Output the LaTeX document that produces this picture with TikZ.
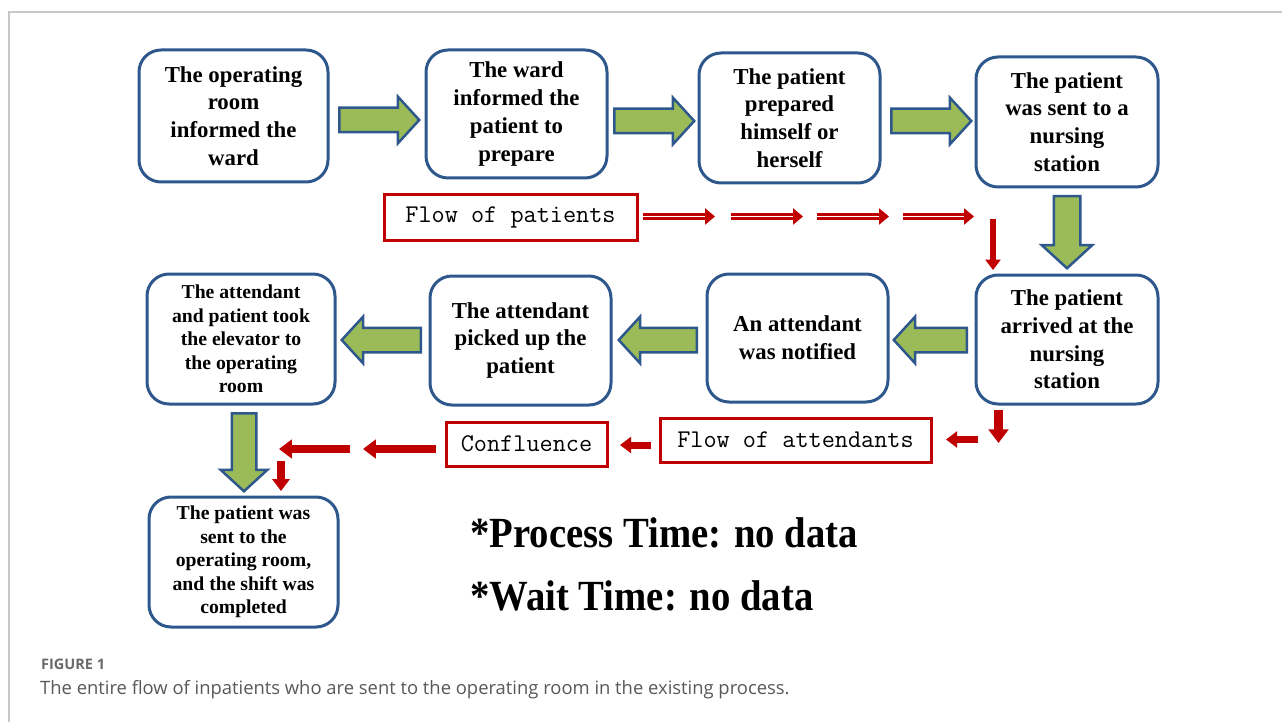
\documentclass[tikz,border=0pt]{standalone}
\usepackage{fontspec}
\setmainfont{Liberation Serif}
\newfontfamily\captionfont{Open Sans}
\usetikzlibrary{shapes.arrows,arrows.meta,calc}

\definecolor{boxblue}{RGB}{46,88,140}
\definecolor{arrowgreen}{RGB}{155,187,89}
\definecolor{flowred}{RGB}{192,0,0}
\definecolor{framegray}{RGB}{200,200,200}
\definecolor{capgray}{RGB}{88,88,88}
\definecolor{figgray}{RGB}{105,105,105}

\tikzset{
  stepbox/.style={draw=boxblue, line width=3pt, rounded corners=22pt, fill=white,
    align=center, inner sep=0pt, font=\bfseries\fontsize{22.8}{27.7}\selectfont},
  smallstep/.style={stepbox, font=\bfseries\fontsize{19.7}{23.5}\selectfont},
  greenarrow/.style={shape=single arrow, draw=boxblue, fill=arrowgreen, line width=2.5pt,
    inner sep=11pt, text height=0pt, text depth=0pt, anchor=tail,
    single arrow head extend=11pt, single arrow tip angle=95},
  flowlabel/.style={draw=flowred, line width=3pt, fill=white, inner sep=0pt,
    font=\ttfamily\fontsize{25.5}{25.5}\selectfont},
  flowdouble/.style={draw=flowred, line width=2.8pt, double=white, double distance=1.6pt,
    -{Triangle[width=16pt,length=10pt]}},
  flowsolid/.style={draw=flowred, line width=#1, -{Triangle[width=2.3*#1,length=1.6*#1]}},
  flowsolid/.default=8pt,
  timetext/.style={anchor=base west, inner sep=0pt,
    font=\bfseries\fontsize{43}{43}\selectfont},
}

\begin{document}
\begin{tikzpicture}[x=1pt,y=-1pt]
  \useasboundingbox (0,0) rectangle (1282,722);

  % page frame
  \draw[framegray, line width=1.5pt] (9,722) -- (9,12) -- (1282,12);

  % process steps, upper row
  \node[stepbox, minimum width=189pt, minimum height=132pt] (s1) at (233.5,116)
    {The operating\\room\\informed the\\ward};
  \node[stepbox, minimum width=181pt, minimum height=128pt] (s2) at (516.5,114)
    {The ward\\informed the\\patient to\\prepare};
  \node[stepbox, minimum width=181pt, minimum height=130pt] (s3) at (789.5,118)
    {The patient\\prepared\\himself or\\herself};
  \node[stepbox, minimum width=182pt, minimum height=130pt] (s4) at (1067,122)
    {The patient\\was sent to a\\nursing\\station};

  % process steps, lower row
  \node[stepbox, minimum width=182pt, minimum height=129pt] (s5) at (1067,339.5)
    {The patient\\arrived at the\\nursing\\station};
  \node[stepbox, minimum width=181pt, minimum height=128pt] (s6) at (797.5,338)
    {An attendant\\was notified};
  \node[stepbox, minimum width=181pt, minimum height=129pt] (s7) at (520.5,340.5)
    {The attendant\\picked up the\\patient};
  \node[smallstep, minimum width=188pt, minimum height=130pt] (s8) at (241,339)
    {The attendant\\and patient took\\the elevator to\\the operating\\room};
  \node[smallstep, minimum width=189pt, minimum height=130pt] (s9) at (243.5,562)
    {The patient was\\sent to the\\operating room,\\and the shift was\\completed};

  % green block arrows between the steps (placed by their tails)
  \node[greenarrow, minimum height=80pt] (g1) at (338,120) {};
  \node[greenarrow, minimum height=80pt] (g2) at (613,121) {};
  \node[greenarrow, minimum height=80pt] (g3) at (890,121) {};
  \node[greenarrow, minimum height=72pt, inner sep=12pt, single arrow head extend=12pt,
    shape border rotate=270] (g4) at (1067,195) {};
  \node[greenarrow, minimum height=73pt, shape border rotate=180] (g5) at (968,340) {};
  \node[greenarrow, minimum height=78pt, shape border rotate=180] (g6) at (698,340) {};
  \node[greenarrow, minimum height=79pt, shape border rotate=180] (g7) at (422,340) {};
  \node[greenarrow, minimum height=78pt, shape border rotate=270] (g8) at (244,412) {};

  % flow labels
  \node[flowlabel, minimum width=253pt, minimum height=45pt] (fp) at (510.5,217.5)
    {Flow of patients};
  \node[flowlabel, minimum width=271pt, minimum height=44pt] (fa) at (795.5,440)
    {Flow of attendants};
  \node[flowlabel, minimum width=161pt, minimum height=44pt] (cf) at (526.5,444)
    {Confluence};

  % flow of patients
  \coordinate (p0) at (643,216.5);
  \coordinate (p1) at (715,216.5);
  \coordinate (p2) at (731,216.5);
  \coordinate (p3) at (803,216.5);
  \coordinate (p4) at (817,216.5);
  \coordinate (p5) at (889,216.5);
  \coordinate (p6) at (903,216.5);
  \coordinate (p7) at (974,216.5);
  \coordinate (p8) at (993,219);
  \coordinate (p9) at (993,270);
  \draw[flowdouble] (p0) -- (p1);
  \draw[flowdouble] (p2) -- (p3);
  \draw[flowdouble] (p4) -- (p5);
  \draw[flowdouble] (p6) -- (p7);
  \draw[flowsolid=6.5pt] (p8) -- (p9);

  % flow of attendants
  \coordinate (a0) at (998.5,410);
  \coordinate (a1) at (998.5,443);
  \coordinate (a2) at (978,439.5);
  \coordinate (a3) at (946,439.5);
  \coordinate (a4) at (651,445);
  \coordinate (a5) at (620,445);
  \draw[flowsolid=8.5pt] (a0) -- (a1);
  \draw[flowsolid=7pt] (a2) -- (a3);
  \draw[flowsolid=7pt] (a4) -- (a5);

  % confluence towards the final step
  \coordinate (c0) at (436,449);
  \coordinate (c1) at (363,449);
  \coordinate (c2) at (350,449);
  \coordinate (c3) at (279,449);
  \coordinate (c4) at (281,461);
  \coordinate (c5) at (281,491);
  \draw[flowsolid=8pt] (c0) -- (c1);
  \draw[flowsolid=8pt] (c2) -- (c3);
  \draw[flowsolid=7.5pt] (c4) -- (c5);

  % timing notes
  \node[timetext] (pt) at (470,547) {\scalebox{0.9}[1]{*Process Time: no data}};
  \node[timetext] (wt) at (470,610) {\scalebox{0.9}[1]{*Wait Time: no data}};

  % caption
  \node[anchor=base west, inner sep=0pt, text=figgray,
    font=\captionfont\bfseries\fontsize{14.5}{16}\selectfont] (fig) at (41,669) {FIGURE 1};
  \node[anchor=base west, inner sep=0pt, text=capgray,
    font=\captionfont\fontsize{18.4}{21}\selectfont] (cap) at (40,694)
    {The entire flow of inpatients who are sent to the operating room in the existing process.};
\end{tikzpicture}
\end{document}
